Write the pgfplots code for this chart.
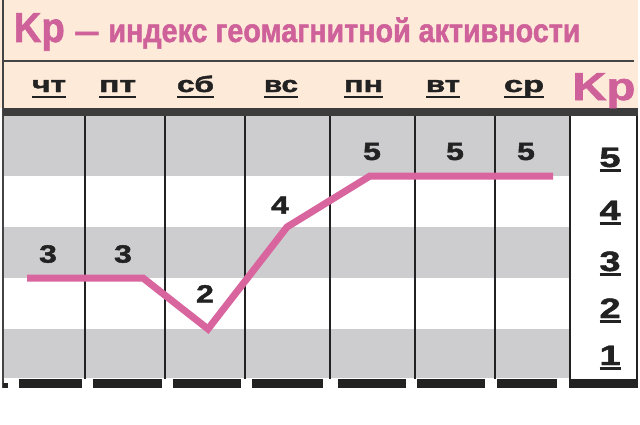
\documentclass[border=0pt]{standalone}
\usepackage{fontspec}
\setmainfont{Liberation Sans}[BoldFeatures={FakeBold=1.6}]
\usepackage{graphicx}
\usepackage{pgfplots}
\usepackage{pgfplotstable}
\pgfplotsset{compat=1.18}

\definecolor{peach}{HTML}{FDEAD8}
\definecolor{pinkT}{HTML}{CF619A}
\definecolor{pinkL}{HTML}{D9659F}
\definecolor{stripe}{HTML}{CDCDCF}
\definecolor{darkbar}{HTML}{3C3C3C}
\definecolor{txt}{HTML}{222222}
\definecolor{rule}{HTML}{444444}

% Kp line (x = horizontal position, kp = index value)
\pgfplotstableread{
x   kp
27  3
143 3
208 2
287 4
370 5
553 5
}\lineData

% value labels: x, label height (in Kp units), value
\pgfplotstableread{
x   ly   kp
48  3.47 3
123 3.47 3
205 2.69 2
280 4.43 4
372 5.48 5
455 5.48 5
526 5.48 5
}\labData

\newcommand\ul[3]{\setbox0\hbox{#3}\rlap{\rule[#1]{\wd0}{#2}}\box0}
\newcommand\dayfont{\fontsize{11.25}{11.25}\selectfont\bfseries}
\newcommand\dl[3]{\node[anchor=base,inner sep=0,text=txt] at (#1,92) {\ul{-3pt}{1.2pt}{\resizebox{#2pt}{\height}{\dayfont #3}}};}
\newcommand\rd[2]{\node[anchor=base,inner sep=0,text=txt] at (610,#1) {\ul{-2.5pt}{1.3pt}{\resizebox{10.5pt}{\height}{\fontsize{14}{14}\selectfont\bfseries #2}}};}

\begin{document}
\begin{tikzpicture}
\begin{scope}[x=0.5pt,y=-0.5pt,yshift=212pt]
\useasboundingbox (0,0) rectangle (640,424);
\fill[white] (0,0) rectangle (640,424);
\fill[peach] (0,0) rectangle (638,108);
\draw[line width=1pt, rule] (3,61) -- (634,61);
% stripes
\fill[stripe] (3,116) rectangle (570,176);
\fill[stripe] (3,227) rectangle (570,278);
\fill[stripe] (3,329) rectangle (570,378);
% column lines
\foreach \xx in {85,165,245,330,415,495} \draw[line width=1pt,txt] (\xx,116) -- (\xx,379);
% right panel
\draw[line width=1pt,txt] (570,116) -- (570,379);
\draw[line width=1pt,txt] (637,116) -- (637,379);
% left border
\draw[line width=1pt, rule] (3,0) -- (3,388);
\fill[txt] (3,383) rectangle (8,388);
% bottom bars
\foreach \p/\q in {19/82, 93/162, 173/241, 252/323, 338/406, 417/485, 497/557, 569/638} \fill[txt] (\p,379) rectangle (\q,388);
% dark band
\fill[darkbar] (3,108) rectangle (638,116);
% title
\node[anchor=base west,inner sep=0,text=pinkT] at (13.4,42) {\resizebox{25.5pt}{\height}{\fontsize{21}{21}\selectfont\bfseries Kp}};
\node[anchor=base west,inner sep=0,text=pinkT] at (75,42) {\resizebox{11.5pt}{\height}{\fontsize{16}{16}\selectfont\bfseries —}};
\node[anchor=base west,inner sep=0,text=pinkT] at (108,42) {\resizebox{236pt}{\height}{\fontsize{16.5}{16.5}\selectfont\bfseries индекс геомагнитной активности}};
% day labels
\dl{49}{17}{чт}
\dl{117.5}{18.5}{пт}
\dl{195.5}{18.5}{сб}
\dl{281}{17}{вс}
\dl{363.5}{19.5}{пн}
\dl{443}{17}{вт}
\dl{524}{20}{ср}
% right Kp
\node[anchor=base west,inner sep=0,text=pinkT] at (572,100) {\resizebox{31.5pt}{\height}{\fontsize{19.5}{19.5}\selectfont\bfseries Kp}};
% right scale
\rd{167}{5}
\rd{220}{4}
\rd{271}{3}
\rd{318}{2}
\rd{365}{1}
\end{scope}
\begin{axis}[at={(0,0)},anchor=south west,scale only axis,
  width=320pt,height=212pt,xmin=0,xmax=640,ymin=0.1373,ymax=8.4510,
  hide axis,clip=false]
\addplot[pinkL,line width=3.5pt,line join=miter,line cap=butt,mark=none] table[x=x,y=kp]{\lineData};
\addplot[only marks,mark=*,mark size=0pt,mark options={draw=none,fill=none},
  point meta=explicit symbolic,
  nodes near coords={\scalebox{1.28}[1]{\pgfplotspointmeta}},
  every node near coord/.append style={anchor=center,text=txt,
    font=\fontsize{12.5}{12.5}\selectfont\bfseries}]
  table[x=x,y=ly,meta=kp]{\labData};
\end{axis}
\end{tikzpicture}
\end{document}
